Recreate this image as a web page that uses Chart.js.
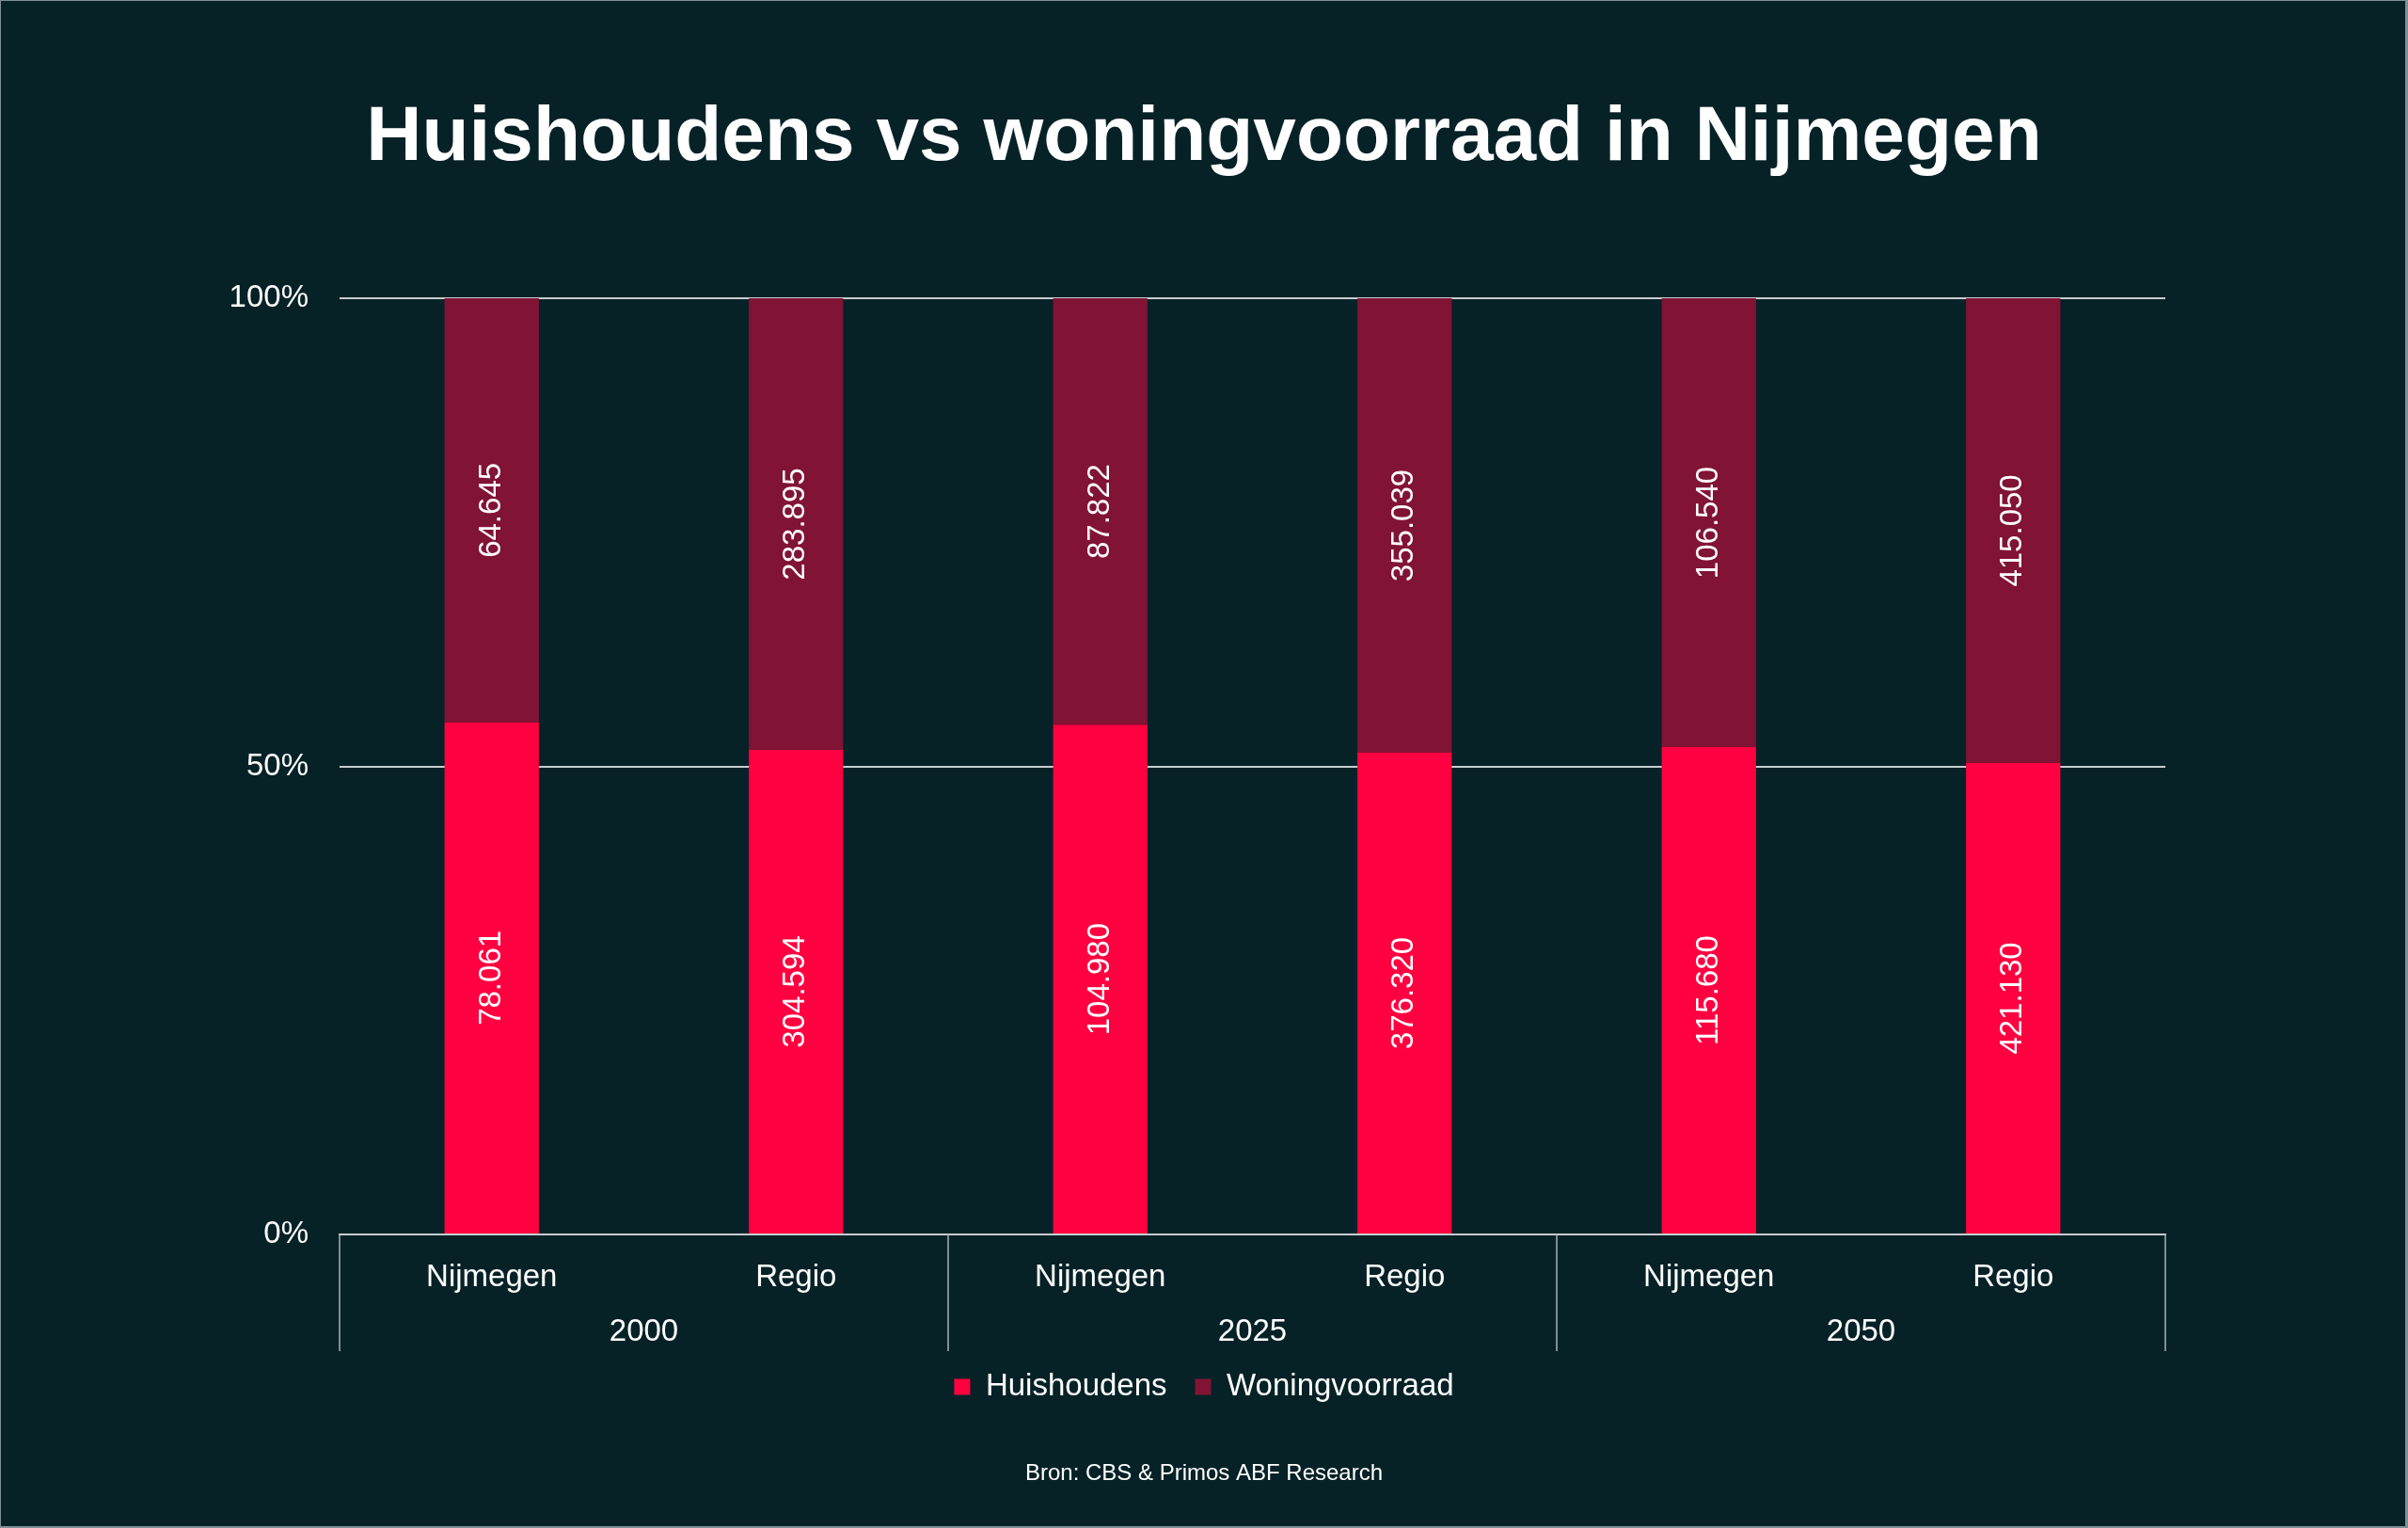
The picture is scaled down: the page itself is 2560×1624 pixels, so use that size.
<!DOCTYPE html>
<html><head><meta charset="utf-8">
<script src="https://cdn.jsdelivr.net/npm/chart.js@4"></script>
<style>
html,body{margin:0;padding:0;background:#062227;}
#wrap{position:relative;width:2560px;height:1624px;overflow:hidden;}
#c{display:block;width:2560px;height:1624px;}
#frame{position:absolute;left:0;top:0;right:0;bottom:0;border-style:solid;border-color:#7d9095;border-width:1px 3px 2px 1px;pointer-events:none;}
</style></head><body>
<div id="wrap"><canvas id="c" width="2560" height="1624"></canvas><div id="frame"></div></div>
<script>
const titleText = 'Huishoudens vs woningvoorraad in Nijmegen';
const sourceText = 'Bron: CBS & Primos ABF Research';
const regions = ['Nijmegen', 'Regio', 'Nijmegen', 'Regio', 'Nijmegen', 'Regio'];
const years = ['2000', '2025', '2050'];
const seriesNames = ['Huishoudens', 'Woningvoorraad'];
const huishoudens = [78061, 304594, 104980, 376320, 115680, 421130];
const woningvoorraad = [64645, 283895, 87822, 355039, 106540, 415050];
const yTicks = [0, 50, 100];

const BG = '#062227';
const RED = '#ff0040';
const MAROON = '#811335';
const FONT = "'Liberation Sans', Arial, Helvetica, sans-serif";

const totals = huishoudens.map((v, i) => v + woningvoorraad[i]);
const pctH = huishoudens.map((v, i) => v / totals[i] * 100);
const pctW = woningvoorraad.map((v, i) => v / totals[i] * 100);
const rawBySeries = [huishoudens, woningvoorraad];

function fmt(v) { return String(v).replace(/\B(?=(\d{3})+(?!\d))/g, '.'); }

Chart.defaults.font.family = FONT;
Chart.defaults.color = '#ffffff';

const customPlugin = {
  id: 'custom',
  beforeDraw(chart) {
    const ctx = chart.ctx;
    ctx.save();
    ctx.fillStyle = BG;
    ctx.fillRect(0, 0, chart.width, chart.height);
    ctx.restore();
  },
  afterDatasetsDraw(chart) {
    const ctx = chart.ctx;
    ctx.save();
    ctx.fillStyle = '#ffffff';
    ctx.font = '33px ' + FONT;
    ctx.textAlign = 'center';
    ctx.textBaseline = 'middle';
    chart.data.datasets.forEach((ds, di) => {
      const meta = chart.getDatasetMeta(di);
      meta.data.forEach((el, i) => {
        const p = el.getProps(['x', 'y', 'base'], true);
        const yc = (p.y + p.base) / 2;
        ctx.save();
        ctx.translate(p.x, yc);
        ctx.rotate(-Math.PI / 2);
        ctx.fillText(fmt(rawBySeries[di][i]), 0, 0);
        ctx.restore();
      });
    });
    ctx.restore();
  },
  afterDraw(chart) {
    const ctx = chart.ctx;
    const xs = chart.scales.x;
    const x2 = chart.scales.x2;
    const area = chart.chartArea;
    const half = (xs.getPixelForValue(1) - xs.getPixelForValue(0)) / 2;
    const groupSize = regions.length / years.length;
    ctx.save();
    ctx.strokeStyle = '#a9b4b7';
    ctx.lineWidth = 1.5;
    for (let g = 0; g <= years.length; g++) {
      let px;
      if (g < years.length) px = xs.getPixelForValue(g * groupSize) - half;
      else px = xs.getPixelForValue(regions.length - 1) + half;
      ctx.beginPath();
      ctx.moveTo(px, area.bottom);
      ctx.lineTo(px, area.bottom + 124);
      ctx.stroke();
    }
    // year (group) labels, positioned by the x2 category scale
    ctx.fillStyle = '#ffffff';
    ctx.font = '33px ' + FONT;
    ctx.textAlign = 'center';
    ctx.textBaseline = 'middle';
    years.forEach((yr, i) => {
      ctx.fillText(yr, x2.getPixelForValue(i), area.bottom + 104);
    });
    ctx.restore();
  }
};

new Chart(document.getElementById('c'), {
  type: 'bar',
  data: {
    labels: regions,
    datasets: [
      { label: seriesNames[0], data: pctH, backgroundColor: RED, borderWidth: 0,
        categoryPercentage: 1, barPercentage: 0.31 },
      { label: seriesNames[1], data: pctW, backgroundColor: MAROON, borderWidth: 0,
        categoryPercentage: 1, barPercentage: 0.31 }
    ]
  },
  options: {
    responsive: false,
    devicePixelRatio: 1,
    animation: false,
    layout: { padding: 0 },
    scales: {
      x: {
        type: 'category',
        stacked: true,
        offset: true,
        weight: 0,
        grid: { display: false },
        border: { display: true, color: '#c5cdcf', width: 2 },
        ticks: { color: '#ffffff', font: { size: 33 }, padding: 18.5, maxRotation: 0, autoSkip: false },
        afterFit: s => { s.height = 69; }
      },
      x2: {
        type: 'category',
        labels: years,
        position: 'bottom',
        offset: true,
        weight: 1,
        grid: { display: false },
        border: { display: false },
        ticks: { display: false },
        afterFit: s => { s.height = 46.5; }
      },
      y: {
        stacked: true,
        min: 0,
        max: 100,
        position: 'left',
        afterBuildTicks: s => { s.ticks = yTicks.map(v => ({ value: v })); },
        ticks: { color: '#ffffff', font: { size: 33 }, padding: 33, callback: v => v + '%' },
        grid: { color: '#c5cdcf', lineWidth: 2, drawTicks: false },
        border: { display: false },
        afterFit: s => { s.width = 361; }
      },
      y2: {
        type: 'linear',
        position: 'right',
        display: true,
        grid: { display: false },
        border: { display: false },
        ticks: { display: false },
        afterFit: s => { s.width = 258; }
      }
    },
    plugins: {
      tooltip: { enabled: false },
      title: {
        display: true,
        text: titleText,
        color: '#ffffff',
        font: { size: 82, weight: 'bold' },
        padding: { top: 98.4, bottom: 120.2 }
      },
      legend: {
        display: true,
        position: 'bottom',
        labels: { color: '#ffffff', font: { size: 33 }, boxWidth: 17, boxHeight: 17, padding: 30 }
      },
      subtitle: {
        display: true,
        text: sourceText,
        position: 'bottom',
        color: '#ffffff',
        font: { size: 24 },
        padding: { top: 51.1, bottom: 43.6 }
      }
    }
  },
  plugins: [customPlugin]
});
</script>
</body></html>
